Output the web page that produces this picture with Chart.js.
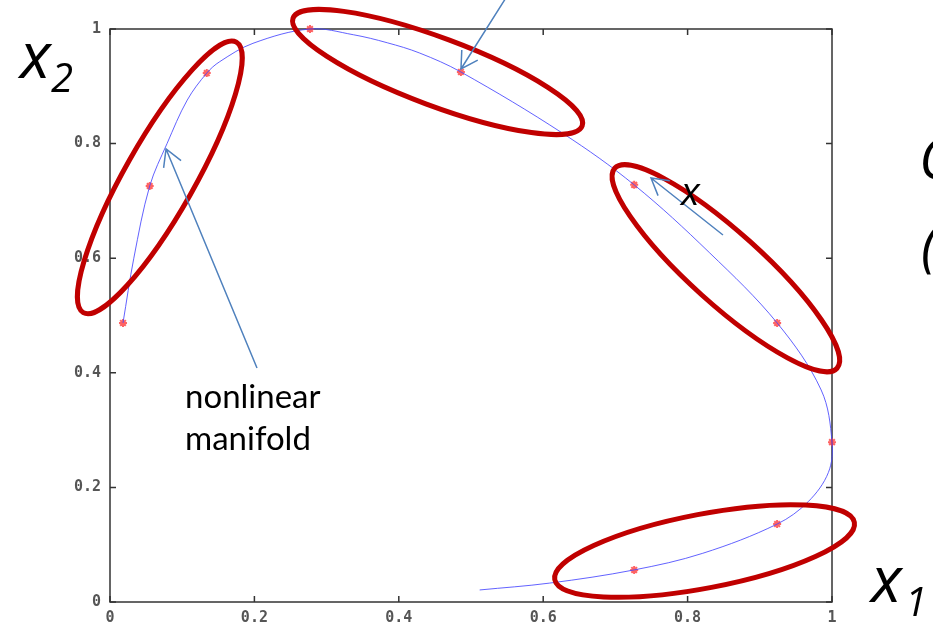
<!DOCTYPE html>
<html>
<head>
<meta charset="utf-8">
<script src="https://cdn.jsdelivr.net/npm/chart.js@4/dist/chart.umd.min.js"></script>
<style>
  body { margin: 0; background: #fff; }
  canvas { display: block; }
</style>
</head>
<body>
<canvas id="grafico" width="933" height="637"></canvas>
<script>
// points along the manifold
var curveX = [0.018, 0.033, 0.055, 0.079, 0.107, 0.134, 0.152, 0.198, 0.277, 0.337, 0.384, 0.429, 0.486, 0.627, 0.726, 0.83, 0.924, 0.985, 1.0, 0.995, 0.967, 0.924, 0.821, 0.726, 0.609, 0.512];
var curveY = [0.487, 0.60, 0.726, 0.80, 0.876, 0.923, 0.943, 0.975, 1.0, 0.99, 0.976, 0.958, 0.925, 0.818, 0.728, 0.61, 0.487, 0.37, 0.279, 0.226, 0.175, 0.136, 0.085, 0.056, 0.033, 0.021];

// red samples on the manifold
var sampleX = [0.018, 0.055, 0.134, 0.277, 0.486, 0.726, 0.924, 1.0, 0.924, 0.726];
var sampleY = [0.487, 0.726, 0.923, 1.0, 0.925, 0.728, 0.487, 0.279, 0.136, 0.056];

var tickValues = [0, 0.2, 0.4, 0.6, 0.8, 1];

// neighbourhood ellipses: ends of the long axis (data units) + half width in px
var ellipseEnds = [
    [-0.037, 0.505, 0.175, 0.977],
    [0.2535, 1.019, 0.654, 0.831],
    [0.699, 0.757, 1.007, 0.408],
    [0.616, 0.039, 1.031, 0.139]
];
var ellipseHalfWidth = [35, 34, 36, 37];

// arrows: from -> to (data units)
var arrows = [
    [0.2036, 0.4084, 0.0776, 0.7906],
    [0.5512, 1.06, 0.4861, 0.9302],
    [0.849, 0.6405, 0.7493, 0.74]
];

function puntos(xs, ys) {
    var out = [];
    for (var i = 0; i < xs.length; i++) out.push({ x: xs[i], y: ys[i] });
    return out;
}

var anotaciones = {
    id: 'anotaciones',
    beforeDatasetsDraw: function (chart) {
        var ctx = chart.ctx, a = chart.chartArea;
        var sx = chart.scales.x, sy = chart.scales.y;
        ctx.save();
        ctx.strokeStyle = '#333';
        ctx.lineWidth = 1.5;
        ctx.strokeRect(a.left, a.top, a.right - a.left, a.bottom - a.top);
        // inward ticks on all four sides
        ctx.beginPath();
        tickValues.forEach(function (v) {
            var px = sx.getPixelForValue(v);
            ctx.moveTo(px, a.bottom); ctx.lineTo(px, a.bottom - 6);
            ctx.moveTo(px, a.top); ctx.lineTo(px, a.top + 6);
            var py = sy.getPixelForValue(v);
            ctx.moveTo(a.left, py); ctx.lineTo(a.left + 6, py);
            ctx.moveTo(a.right, py); ctx.lineTo(a.right - 6, py);
        });
        ctx.stroke();
        ctx.restore();
    },
    afterDatasetsDraw: function (chart) {
        var ctx = chart.ctx;
        var sx = chart.scales.x, sy = chart.scales.y;
        ctx.save();

        // ellipses
        ctx.strokeStyle = '#c00000';
        ctx.lineWidth = 5;
        ellipseEnds.forEach(function (e, i) {
            var x1 = sx.getPixelForValue(e[0]), y1 = sy.getPixelForValue(e[1]);
            var x2 = sx.getPixelForValue(e[2]), y2 = sy.getPixelForValue(e[3]);
            var len = Math.hypot(x2 - x1, y2 - y1) / 2;
            var ang = Math.atan2(y2 - y1, x2 - x1);
            ctx.beginPath();
            ctx.ellipse((x1 + x2) / 2, (y1 + y2) / 2, len, ellipseHalfWidth[i], ang, 0, Math.PI * 2);
            ctx.stroke();
        });

        // arrows
        ctx.strokeStyle = '#4f81bd';
        ctx.lineWidth = 1.5;
        arrows.forEach(function (r) {
            var x1 = sx.getPixelForValue(r[0]), y1 = sy.getPixelForValue(r[1]);
            var x2 = sx.getPixelForValue(r[2]), y2 = sy.getPixelForValue(r[3]);
            var ang = Math.atan2(y1 - y2, x1 - x2);
            ctx.beginPath();
            ctx.moveTo(x1, y1); ctx.lineTo(x2, y2);
            ctx.moveTo(x2 + 19 * Math.cos(ang + 0.52), y2 + 19 * Math.sin(ang + 0.52));
            ctx.lineTo(x2, y2);
            ctx.lineTo(x2 + 19 * Math.cos(ang - 0.52), y2 + 19 * Math.sin(ang - 0.52));
            ctx.stroke();
        });

        // texts
        ctx.fillStyle = '#000';
        ctx.textBaseline = 'alphabetic';
        ctx.textAlign = 'left';
        ctx.font = '33px Lato';
        ctx.fillText('nonlinear', 185, 408);
        ctx.fillText('manifold', 185, 450);

        ctx.font = 'italic 64px "Open Sans"';
        ctx.fillText('x', 20, 78);
        ctx.fillText('x', 871, 602);
        ctx.font = 'italic 40px "Open Sans"';
        ctx.fillText('2', 51, 92);
        ctx.fillText('1', 905, 616);
        ctx.font = 'italic 39px "Open Sans"';
        ctx.fillText('x', 681, 205);

        ctx.font = 'italic 56px "Open Sans"';
        ctx.fillText('C', 919, 179);
        ctx.fillText('(', 921, 266);
        ctx.restore();
    }
};

var fuenteTicks = { family: 'DejaVu Sans Mono', size: 15, weight: 'bold' };
function etiqueta(v) { return (v === 0 || v === 1) ? String(v) : v.toFixed(1); }

new Chart(document.getElementById('grafico').getContext('2d'), {
    type: 'scatter',
    data: {
        datasets: [{
            label: 'manifold',
            data: puntos(curveX, curveY),
            showLine: true,
            borderColor: 'rgba(70,70,255,0.85)',
            borderWidth: 1,
            pointRadius: 0,
            tension: 0.35,
            capBezierPoints: false,
            clip: false
        }, {
            label: 'samples',
            data: puntos(sampleX, sampleY),
            showLine: false,
            pointStyle: 'star',
            pointRadius: 4,
            borderColor: 'rgba(255,60,60,0.8)',
            backgroundColor: 'rgba(255,60,60,0.8)',
            borderWidth: 2,
            clip: false
        }]
    },
    options: {
        responsive: false,
        animation: false,
        elements: { line: { capBezierPoints: false } },
        layout: { padding: { left: 50, right: 101, top: 29, bottom: 5 } },
        plugins: {
            legend: { display: false },
            tooltip: { enabled: false }
        },
        scales: {
            x: {
                type: 'linear', min: 0, max: 1,
                afterBuildTicks: function (s) { s.ticks = tickValues.map(function (v) { return { value: v }; }); },
                ticks: { color: '#555', font: fuenteTicks, padding: 7, maxRotation: 0, callback: etiqueta },
                grid: { display: false, drawTicks: false, tickLength: 0 },
                border: { display: false },
                afterFit: function (s) { s.height = 30; s.paddingLeft = 0; s.paddingRight = 0; }
            },
            y: {
                type: 'linear', min: 0, max: 1,
                afterBuildTicks: function (s) { s.ticks = tickValues.map(function (v) { return { value: v }; }); },
                ticks: { color: '#555', font: fuenteTicks, padding: 9, callback: etiqueta },
                grid: { display: false, drawTicks: false, tickLength: 0 },
                border: { display: false },
                afterFit: function (s) { s.width = 60; s.paddingTop = 0; s.paddingBottom = 0; }
            }
        }
    },
    plugins: [anotaciones]
});
</script>
</body>
</html>
